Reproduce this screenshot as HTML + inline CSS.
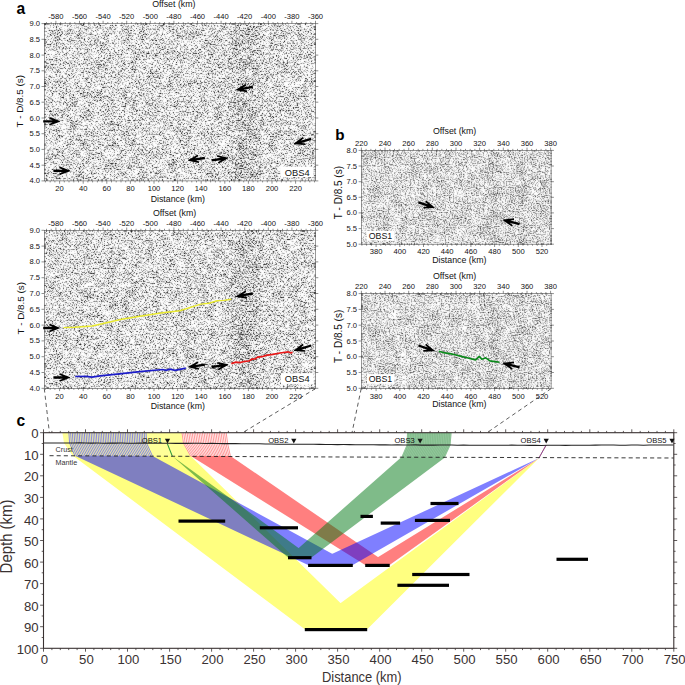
<!DOCTYPE html>
<html><head><meta charset="utf-8"><title>figure</title>
<style>html,body{margin:0;padding:0;background:#fff;}svg{display:block;}text{font-family:"Liberation Sans", sans-serif;}</style></head><body>
<svg width="685" height="685" viewBox="0 0 685 685">
<defs>
<filter id="nzA" x="0" y="0" width="100%" height="100%" color-interpolation-filters="sRGB"><feTurbulence type="fractalNoise" baseFrequency="0.71 0.79" numOctaves="2" seed="7" result="a0"/><feColorMatrix in="a0" type="matrix" values="1 0 0 0 0  1 0 0 0 0  1 0 0 0 0  0 0 0 0 1" result="a"/><feTurbulence type="fractalNoise" baseFrequency="0.13 0.10" numOctaves="2" seed="18" result="b0"/><feColorMatrix in="b0" type="matrix" values="1 0 0 0 0  1 0 0 0 0  1 0 0 0 0  0 0 0 0 1" result="b"/><feComposite in="b" in2="SourceGraphic" operator="arithmetic" k1="0" k2="0.6" k3="1" k4="-0.25" result="d"/><feComposite in="a" in2="d" operator="arithmetic" k1="0" k2="3" k3="1" k4="-1.1" result="e"/><feConvolveMatrix in="e" order="3" kernelMatrix="1 2 1 2 30 2 1 2 1" divisor="42" edgeMode="duplicate" preserveAlpha="true"/></filter>
<filter id="nzB" x="0" y="0" width="100%" height="100%" color-interpolation-filters="sRGB"><feTurbulence type="fractalNoise" baseFrequency="0.77 0.87" numOctaves="2" seed="23" result="a0"/><feColorMatrix in="a0" type="matrix" values="1 0 0 0 0  1 0 0 0 0  1 0 0 0 0  0 0 0 0 1" result="a"/><feTurbulence type="fractalNoise" baseFrequency="0.10 0.08" numOctaves="2" seed="34" result="b0"/><feColorMatrix in="b0" type="matrix" values="1 0 0 0 0  1 0 0 0 0  1 0 0 0 0  0 0 0 0 1" result="b"/><feComposite in="b" in2="SourceGraphic" operator="arithmetic" k1="0" k2="0.4" k3="1" k4="-0.25" result="d"/><feComposite in="a" in2="d" operator="arithmetic" k1="0" k2="2" k3="1" k4="-0.565" result="e"/><feConvolveMatrix in="e" order="3" kernelMatrix="1 2 1 2 30 2 1 2 1" divisor="42" edgeMode="duplicate" preserveAlpha="true"/></filter>
<linearGradient id="sgA" gradientUnits="userSpaceOnUse" x1="44.3" x2="315.5" y1="0" y2="0"><stop offset="0.0000" stop-color="rgb(128,128,128)"/><stop offset="0.6700" stop-color="rgb(128,128,128)"/><stop offset="0.7120" stop-color="rgb(99,99,99)"/><stop offset="0.7681" stop-color="rgb(99,99,99)"/><stop offset="0.8101" stop-color="rgb(128,128,128)"/><stop offset="1.0000" stop-color="rgb(128,128,128)"/></linearGradient>
<linearGradient id="sgB" gradientUnits="userSpaceOnUse" x1="361.4" x2="551.1" y1="0" y2="0"><stop offset="0.0000" stop-color="rgb(128,128,128)"/><stop offset="0.6568" stop-color="rgb(128,128,128)"/><stop offset="0.6821" stop-color="rgb(110,110,110)"/><stop offset="0.7159" stop-color="rgb(110,110,110)"/><stop offset="0.7412" stop-color="rgb(128,128,128)"/><stop offset="0.8150" stop-color="rgb(128,128,128)"/><stop offset="0.8339" stop-color="rgb(112,112,112)"/><stop offset="0.8593" stop-color="rgb(112,112,112)"/><stop offset="0.8782" stop-color="rgb(128,128,128)"/><stop offset="1.0000" stop-color="rgb(128,128,128)"/></linearGradient>
</defs>
<rect width="685" height="685" fill="#fff"/>
<rect x="44.3" y="23.6" width="271.2" height="157.3" fill="url(#sgA)" filter="url(#nzA)"/>
<rect x="44.3" y="23.6" width="271.2" height="157.3" fill="none" stroke="#555" stroke-width="0.6"/>
<path d="M55.9 23.6v-2.8M79.5 23.6v-2.8M103.1 23.6v-2.8M126.7 23.6v-2.8M150.3 23.6v-2.8M173.9 23.6v-2.8M197.5 23.6v-2.8M221.1 23.6v-2.8M244.7 23.6v-2.8M268.3 23.6v-2.8M291.9 23.6v-2.8M315.5 23.6v-2.8M46.5 23.6v-1.5M51.2 23.6v-1.5M60.6 23.6v-1.5M65.3 23.6v-1.5M70.1 23.6v-1.5M74.8 23.6v-1.5M84.2 23.6v-1.5M88.9 23.6v-1.5M93.7 23.6v-1.5M98.4 23.6v-1.5M107.8 23.6v-1.5M112.5 23.6v-1.5M117.3 23.6v-1.5M122.0 23.6v-1.5M131.4 23.6v-1.5M136.1 23.6v-1.5M140.9 23.6v-1.5M145.6 23.6v-1.5M155.0 23.6v-1.5M159.7 23.6v-1.5M164.5 23.6v-1.5M169.2 23.6v-1.5M178.6 23.6v-1.5M183.3 23.6v-1.5M188.1 23.6v-1.5M192.8 23.6v-1.5M202.2 23.6v-1.5M206.9 23.6v-1.5M211.7 23.6v-1.5M216.4 23.6v-1.5M225.8 23.6v-1.5M230.5 23.6v-1.5M235.3 23.6v-1.5M240.0 23.6v-1.5M249.4 23.6v-1.5M254.1 23.6v-1.5M258.9 23.6v-1.5M263.6 23.6v-1.5M273.0 23.6v-1.5M277.7 23.6v-1.5M282.5 23.6v-1.5M287.2 23.6v-1.5M296.6 23.6v-1.5M301.3 23.6v-1.5M306.1 23.6v-1.5M310.8 23.6v-1.5" stroke="#444" stroke-width="0.6" fill="none"/>
<text x="55.9" y="19.0" font-size="7.60" text-anchor="middle" fill="#111" font-weight="normal" >-580</text>
<text x="79.5" y="19.0" font-size="7.60" text-anchor="middle" fill="#111" font-weight="normal" >-560</text>
<text x="103.1" y="19.0" font-size="7.60" text-anchor="middle" fill="#111" font-weight="normal" >-540</text>
<text x="126.7" y="19.0" font-size="7.60" text-anchor="middle" fill="#111" font-weight="normal" >-520</text>
<text x="150.3" y="19.0" font-size="7.60" text-anchor="middle" fill="#111" font-weight="normal" >-500</text>
<text x="173.9" y="19.0" font-size="7.60" text-anchor="middle" fill="#111" font-weight="normal" >-480</text>
<text x="197.5" y="19.0" font-size="7.60" text-anchor="middle" fill="#111" font-weight="normal" >-460</text>
<text x="221.1" y="19.0" font-size="7.60" text-anchor="middle" fill="#111" font-weight="normal" >-440</text>
<text x="244.7" y="19.0" font-size="7.60" text-anchor="middle" fill="#111" font-weight="normal" >-420</text>
<text x="268.3" y="19.0" font-size="7.60" text-anchor="middle" fill="#111" font-weight="normal" >-400</text>
<text x="291.9" y="19.0" font-size="7.60" text-anchor="middle" fill="#111" font-weight="normal" >-380</text>
<text x="315.5" y="19.0" font-size="7.60" text-anchor="middle" fill="#111" font-weight="normal" >-360</text>
<text x="173.8" y="6.9" font-size="8.80" text-anchor="middle" fill="#111" font-weight="normal" >Offset (km)</text>
<path d="M59.6 180.9v2.8M83.2 180.9v2.8M106.8 180.9v2.8M130.4 180.9v2.8M154.0 180.9v2.8M177.6 180.9v2.8M201.2 180.9v2.8M224.8 180.9v2.8M248.4 180.9v2.8M272.0 180.9v2.8M295.6 180.9v2.8M45.4 180.9v1.5M50.2 180.9v1.5M54.9 180.9v1.5M64.3 180.9v1.5M69.0 180.9v1.5M73.8 180.9v1.5M78.5 180.9v1.5M87.9 180.9v1.5M92.6 180.9v1.5M97.4 180.9v1.5M102.1 180.9v1.5M111.5 180.9v1.5M116.2 180.9v1.5M121.0 180.9v1.5M125.7 180.9v1.5M135.1 180.9v1.5M139.8 180.9v1.5M144.6 180.9v1.5M149.3 180.9v1.5M158.7 180.9v1.5M163.4 180.9v1.5M168.2 180.9v1.5M172.9 180.9v1.5M182.3 180.9v1.5M187.0 180.9v1.5M191.8 180.9v1.5M196.5 180.9v1.5M205.9 180.9v1.5M210.6 180.9v1.5M215.4 180.9v1.5M220.1 180.9v1.5M229.5 180.9v1.5M234.2 180.9v1.5M239.0 180.9v1.5M243.7 180.9v1.5M253.1 180.9v1.5M257.8 180.9v1.5M262.6 180.9v1.5M267.3 180.9v1.5M276.7 180.9v1.5M281.4 180.9v1.5M286.2 180.9v1.5M290.9 180.9v1.5M300.3 180.9v1.5M305.0 180.9v1.5M309.8 180.9v1.5M314.5 180.9v1.5" stroke="#444" stroke-width="0.6" fill="none"/>
<text x="59.6" y="191.3" font-size="7.60" text-anchor="middle" fill="#111" font-weight="normal" >20</text>
<text x="83.2" y="191.3" font-size="7.60" text-anchor="middle" fill="#111" font-weight="normal" >40</text>
<text x="106.8" y="191.3" font-size="7.60" text-anchor="middle" fill="#111" font-weight="normal" >60</text>
<text x="130.4" y="191.3" font-size="7.60" text-anchor="middle" fill="#111" font-weight="normal" >80</text>
<text x="154.0" y="191.3" font-size="7.60" text-anchor="middle" fill="#111" font-weight="normal" >100</text>
<text x="177.6" y="191.3" font-size="7.60" text-anchor="middle" fill="#111" font-weight="normal" >120</text>
<text x="201.2" y="191.3" font-size="7.60" text-anchor="middle" fill="#111" font-weight="normal" >140</text>
<text x="224.8" y="191.3" font-size="7.60" text-anchor="middle" fill="#111" font-weight="normal" >160</text>
<text x="248.4" y="191.3" font-size="7.60" text-anchor="middle" fill="#111" font-weight="normal" >180</text>
<text x="272.0" y="191.3" font-size="7.60" text-anchor="middle" fill="#111" font-weight="normal" >200</text>
<text x="295.6" y="191.3" font-size="7.60" text-anchor="middle" fill="#111" font-weight="normal" >220</text>
<text x="177.8" y="201.7" font-size="8.80" text-anchor="middle" fill="#111" font-weight="normal" >Distance (km)</text>
<path d="M44.3 180.9h-2.8M44.3 165.2h-2.8M44.3 149.4h-2.8M44.3 133.7h-2.8M44.3 118.0h-2.8M44.3 102.2h-2.8M44.3 86.5h-2.8M44.3 70.8h-2.8M44.3 55.1h-2.8M44.3 39.3h-2.8M44.3 23.6h-2.8" stroke="#444" stroke-width="0.6" fill="none"/>
<path d="M315.5 180.9h2.8M315.5 165.2h2.8M315.5 149.4h2.8M315.5 133.7h2.8M315.5 118.0h2.8M315.5 102.2h2.8M315.5 86.5h2.8M315.5 70.8h2.8M315.5 55.1h2.8M315.5 39.3h2.8M315.5 23.6h2.8" stroke="#444" stroke-width="0.6" fill="none"/>
<text x="40.0" y="183.4" font-size="7.60" text-anchor="end" fill="#111" font-weight="normal" >4.0</text>
<text x="40.0" y="167.7" font-size="7.60" text-anchor="end" fill="#111" font-weight="normal" >4.5</text>
<text x="40.0" y="151.9" font-size="7.60" text-anchor="end" fill="#111" font-weight="normal" >5.0</text>
<text x="40.0" y="136.2" font-size="7.60" text-anchor="end" fill="#111" font-weight="normal" >5.5</text>
<text x="40.0" y="120.5" font-size="7.60" text-anchor="end" fill="#111" font-weight="normal" >6.0</text>
<text x="40.0" y="104.8" font-size="7.60" text-anchor="end" fill="#111" font-weight="normal" >6.5</text>
<text x="40.0" y="89.0" font-size="7.60" text-anchor="end" fill="#111" font-weight="normal" >7.0</text>
<text x="40.0" y="73.3" font-size="7.60" text-anchor="end" fill="#111" font-weight="normal" >7.5</text>
<text x="40.0" y="57.6" font-size="7.60" text-anchor="end" fill="#111" font-weight="normal" >8.0</text>
<text x="40.0" y="41.8" font-size="7.60" text-anchor="end" fill="#111" font-weight="normal" >8.5</text>
<text x="40.0" y="26.1" font-size="7.60" text-anchor="end" fill="#111" font-weight="normal" >9.0</text>
<text transform="translate(22.8 101.2) rotate(-90)" font-size="9.9" text-anchor="middle" fill="#111">T - D/8.5 (s)</text>
<rect x="281.0" y="166.6" width="32.6" height="10.6" fill="#fff"/>
<text x="297.2" y="175.6" font-size="9.30" text-anchor="middle" fill="#111" font-weight="normal" >OBS4</text>
<polygon points="59.90,120.95 49.70,117.10 49.04,118.56 52.57,120.15 43.20,120.15 43.20,122.45 52.57,122.45 49.04,124.04 49.70,125.50 59.90,121.65" fill="#000"/>
<polygon points="70.10,170.45 59.90,166.60 59.24,168.06 62.77,169.65 53.40,169.65 53.40,171.95 62.77,171.95 59.24,173.54 59.90,175.00 70.10,171.15" fill="#000"/>
<polygon points="188.16,160.67 198.79,163.09 199.24,161.55 195.53,160.46 205.06,159.14 204.74,156.86 195.22,158.18 198.49,156.12 197.64,154.76 188.06,159.98" fill="#000"/>
<polygon points="228.14,157.63 217.51,155.23 217.06,156.77 220.77,157.85 211.44,159.16 211.76,161.44 221.09,160.13 217.82,162.20 218.67,163.55 228.24,158.32" fill="#000"/>
<polygon points="236.18,90.21 246.91,92.15 247.29,90.60 243.54,89.67 253.01,87.93 252.59,85.67 243.12,87.41 246.30,85.21 245.39,83.89 236.05,89.52" fill="#000"/>
<polygon points="294.14,144.29 305.02,145.04 305.23,143.46 301.39,142.95 311.53,139.90 310.87,137.70 300.73,140.75 303.65,138.21 302.60,137.00 293.94,143.62" fill="#000"/>
<rect x="44.3" y="230.3" width="271.2" height="158.0" fill="url(#sgA)" filter="url(#nzA)"/>
<rect x="44.3" y="230.3" width="271.2" height="158.0" fill="none" stroke="#555" stroke-width="0.6"/>
<path d="M55.9 230.3v-2.8M79.5 230.3v-2.8M103.1 230.3v-2.8M126.7 230.3v-2.8M150.3 230.3v-2.8M173.9 230.3v-2.8M197.5 230.3v-2.8M221.1 230.3v-2.8M244.7 230.3v-2.8M268.3 230.3v-2.8M291.9 230.3v-2.8M315.5 230.3v-2.8M46.5 230.3v-1.5M51.2 230.3v-1.5M60.6 230.3v-1.5M65.3 230.3v-1.5M70.1 230.3v-1.5M74.8 230.3v-1.5M84.2 230.3v-1.5M88.9 230.3v-1.5M93.7 230.3v-1.5M98.4 230.3v-1.5M107.8 230.3v-1.5M112.5 230.3v-1.5M117.3 230.3v-1.5M122.0 230.3v-1.5M131.4 230.3v-1.5M136.1 230.3v-1.5M140.9 230.3v-1.5M145.6 230.3v-1.5M155.0 230.3v-1.5M159.7 230.3v-1.5M164.5 230.3v-1.5M169.2 230.3v-1.5M178.6 230.3v-1.5M183.3 230.3v-1.5M188.1 230.3v-1.5M192.8 230.3v-1.5M202.2 230.3v-1.5M206.9 230.3v-1.5M211.7 230.3v-1.5M216.4 230.3v-1.5M225.8 230.3v-1.5M230.5 230.3v-1.5M235.3 230.3v-1.5M240.0 230.3v-1.5M249.4 230.3v-1.5M254.1 230.3v-1.5M258.9 230.3v-1.5M263.6 230.3v-1.5M273.0 230.3v-1.5M277.7 230.3v-1.5M282.5 230.3v-1.5M287.2 230.3v-1.5M296.6 230.3v-1.5M301.3 230.3v-1.5M306.1 230.3v-1.5M310.8 230.3v-1.5" stroke="#444" stroke-width="0.6" fill="none"/>
<text x="55.9" y="225.7" font-size="7.60" text-anchor="middle" fill="#111" font-weight="normal" >-580</text>
<text x="79.5" y="225.7" font-size="7.60" text-anchor="middle" fill="#111" font-weight="normal" >-560</text>
<text x="103.1" y="225.7" font-size="7.60" text-anchor="middle" fill="#111" font-weight="normal" >-540</text>
<text x="126.7" y="225.7" font-size="7.60" text-anchor="middle" fill="#111" font-weight="normal" >-520</text>
<text x="150.3" y="225.7" font-size="7.60" text-anchor="middle" fill="#111" font-weight="normal" >-500</text>
<text x="173.9" y="225.7" font-size="7.60" text-anchor="middle" fill="#111" font-weight="normal" >-480</text>
<text x="197.5" y="225.7" font-size="7.60" text-anchor="middle" fill="#111" font-weight="normal" >-460</text>
<text x="221.1" y="225.7" font-size="7.60" text-anchor="middle" fill="#111" font-weight="normal" >-440</text>
<text x="244.7" y="225.7" font-size="7.60" text-anchor="middle" fill="#111" font-weight="normal" >-420</text>
<text x="268.3" y="225.7" font-size="7.60" text-anchor="middle" fill="#111" font-weight="normal" >-400</text>
<text x="291.9" y="225.7" font-size="7.60" text-anchor="middle" fill="#111" font-weight="normal" >-380</text>
<text x="315.5" y="225.7" font-size="7.60" text-anchor="middle" fill="#111" font-weight="normal" >-360</text>
<text x="174.6" y="215.5" font-size="8.80" text-anchor="middle" fill="#111" font-weight="normal" >Offset (km)</text>
<path d="M59.6 388.3v2.8M83.2 388.3v2.8M106.8 388.3v2.8M130.4 388.3v2.8M154.0 388.3v2.8M177.6 388.3v2.8M201.2 388.3v2.8M224.8 388.3v2.8M248.4 388.3v2.8M272.0 388.3v2.8M295.6 388.3v2.8M45.4 388.3v1.5M50.2 388.3v1.5M54.9 388.3v1.5M64.3 388.3v1.5M69.0 388.3v1.5M73.8 388.3v1.5M78.5 388.3v1.5M87.9 388.3v1.5M92.6 388.3v1.5M97.4 388.3v1.5M102.1 388.3v1.5M111.5 388.3v1.5M116.2 388.3v1.5M121.0 388.3v1.5M125.7 388.3v1.5M135.1 388.3v1.5M139.8 388.3v1.5M144.6 388.3v1.5M149.3 388.3v1.5M158.7 388.3v1.5M163.4 388.3v1.5M168.2 388.3v1.5M172.9 388.3v1.5M182.3 388.3v1.5M187.0 388.3v1.5M191.8 388.3v1.5M196.5 388.3v1.5M205.9 388.3v1.5M210.6 388.3v1.5M215.4 388.3v1.5M220.1 388.3v1.5M229.5 388.3v1.5M234.2 388.3v1.5M239.0 388.3v1.5M243.7 388.3v1.5M253.1 388.3v1.5M257.8 388.3v1.5M262.6 388.3v1.5M267.3 388.3v1.5M276.7 388.3v1.5M281.4 388.3v1.5M286.2 388.3v1.5M290.9 388.3v1.5M300.3 388.3v1.5M305.0 388.3v1.5M309.8 388.3v1.5M314.5 388.3v1.5" stroke="#444" stroke-width="0.6" fill="none"/>
<text x="59.6" y="398.7" font-size="7.60" text-anchor="middle" fill="#111" font-weight="normal" >20</text>
<text x="83.2" y="398.7" font-size="7.60" text-anchor="middle" fill="#111" font-weight="normal" >40</text>
<text x="106.8" y="398.7" font-size="7.60" text-anchor="middle" fill="#111" font-weight="normal" >60</text>
<text x="130.4" y="398.7" font-size="7.60" text-anchor="middle" fill="#111" font-weight="normal" >80</text>
<text x="154.0" y="398.7" font-size="7.60" text-anchor="middle" fill="#111" font-weight="normal" >100</text>
<text x="177.6" y="398.7" font-size="7.60" text-anchor="middle" fill="#111" font-weight="normal" >120</text>
<text x="201.2" y="398.7" font-size="7.60" text-anchor="middle" fill="#111" font-weight="normal" >140</text>
<text x="224.8" y="398.7" font-size="7.60" text-anchor="middle" fill="#111" font-weight="normal" >160</text>
<text x="248.4" y="398.7" font-size="7.60" text-anchor="middle" fill="#111" font-weight="normal" >180</text>
<text x="272.0" y="398.7" font-size="7.60" text-anchor="middle" fill="#111" font-weight="normal" >200</text>
<text x="295.6" y="398.7" font-size="7.60" text-anchor="middle" fill="#111" font-weight="normal" >220</text>
<text x="177.8" y="409.1" font-size="8.80" text-anchor="middle" fill="#111" font-weight="normal" >Distance (km)</text>
<path d="M44.3 388.3h-2.8M44.3 372.5h-2.8M44.3 356.7h-2.8M44.3 340.9h-2.8M44.3 325.1h-2.8M44.3 309.3h-2.8M44.3 293.5h-2.8M44.3 277.7h-2.8M44.3 261.9h-2.8M44.3 246.1h-2.8M44.3 230.3h-2.8" stroke="#444" stroke-width="0.6" fill="none"/>
<path d="M315.5 388.3h2.8M315.5 372.5h2.8M315.5 356.7h2.8M315.5 340.9h2.8M315.5 325.1h2.8M315.5 309.3h2.8M315.5 293.5h2.8M315.5 277.7h2.8M315.5 261.9h2.8M315.5 246.1h2.8M315.5 230.3h2.8" stroke="#444" stroke-width="0.6" fill="none"/>
<text x="40.0" y="390.8" font-size="7.60" text-anchor="end" fill="#111" font-weight="normal" >4.0</text>
<text x="40.0" y="375.0" font-size="7.60" text-anchor="end" fill="#111" font-weight="normal" >4.5</text>
<text x="40.0" y="359.2" font-size="7.60" text-anchor="end" fill="#111" font-weight="normal" >5.0</text>
<text x="40.0" y="343.4" font-size="7.60" text-anchor="end" fill="#111" font-weight="normal" >5.5</text>
<text x="40.0" y="327.6" font-size="7.60" text-anchor="end" fill="#111" font-weight="normal" >6.0</text>
<text x="40.0" y="311.8" font-size="7.60" text-anchor="end" fill="#111" font-weight="normal" >6.5</text>
<text x="40.0" y="296.0" font-size="7.60" text-anchor="end" fill="#111" font-weight="normal" >7.0</text>
<text x="40.0" y="280.2" font-size="7.60" text-anchor="end" fill="#111" font-weight="normal" >7.5</text>
<text x="40.0" y="264.4" font-size="7.60" text-anchor="end" fill="#111" font-weight="normal" >8.0</text>
<text x="40.0" y="248.6" font-size="7.60" text-anchor="end" fill="#111" font-weight="normal" >8.5</text>
<text x="40.0" y="232.8" font-size="7.60" text-anchor="end" fill="#111" font-weight="normal" >9.0</text>
<text transform="translate(23.6 308.2) rotate(-90)" font-size="9.9" text-anchor="middle" fill="#111">T - D/8.5 (s)</text>
<rect x="281.0" y="373.3" width="32.6" height="10.6" fill="#fff"/>
<text x="297.2" y="382.3" font-size="9.30" text-anchor="middle" fill="#111" font-weight="normal" >OBS4</text>
<polyline points="63.5,327.6 75,327.3 92.1,326 100,324.2 121.7,319.2 140,316.2 162.6,312.7 180,310.7 200.7,304.1 209,303.2 217.1,300.8 224,300.4 231.3,299.3" fill="none" stroke="#eaea30" stroke-width="1.4"/>
<polyline points="75.2,376.5 86,376.3 92.1,377.1 100,375.8 121.7,373.6 140,371.6 162.6,369.5 166,370.4 170,369.2 175,370.3 180,369.3 185.8,368.2" fill="none" stroke="#1c1cc8" stroke-width="1.7"/>
<polyline points="231.3,363.6 236,362.2 240,362.6 245,361.3 248.8,361 252,359.2 255,358.9 257.6,357.1 262,356.7 266,355.4 272.9,354.4 280,353 288.2,351.8 290.5,352.9 292.6,352.4" fill="none" stroke="#e81818" stroke-width="1.7"/>
<polygon points="59.90,327.65 49.70,323.80 49.04,325.26 52.57,326.85 43.20,326.85 43.20,329.15 52.57,329.15 49.04,330.74 49.70,332.20 59.90,328.35" fill="#000"/>
<polygon points="70.10,377.15 59.90,373.30 59.24,374.76 62.77,376.35 53.40,376.35 53.40,378.65 62.77,378.65 59.24,380.24 59.90,381.70 70.10,377.85" fill="#000"/>
<polygon points="188.16,367.37 198.79,369.79 199.24,368.25 195.53,367.16 205.06,365.84 204.74,363.56 195.22,364.88 198.49,362.82 197.64,361.46 188.06,366.68" fill="#000"/>
<polygon points="228.14,364.33 217.51,361.93 217.06,363.47 220.77,364.55 211.44,365.86 211.76,368.14 221.09,366.83 217.82,368.90 218.67,370.25 228.24,365.02" fill="#000"/>
<polygon points="236.18,296.91 246.91,298.85 247.29,297.30 243.54,296.37 253.01,294.63 252.59,292.37 243.12,294.11 246.30,291.91 245.39,290.59 236.05,296.22" fill="#000"/>
<polygon points="294.14,350.99 305.02,351.74 305.23,350.16 301.39,349.65 311.53,346.60 310.87,344.40 300.73,347.45 303.65,344.91 302.60,343.70 293.94,350.32" fill="#000"/>
<rect x="361.4" y="150.4" width="189.7" height="93.8" fill="url(#sgB)" filter="url(#nzB)"/>
<rect x="361.4" y="150.4" width="189.7" height="93.8" fill="none" stroke="#555" stroke-width="0.6"/>
<path d="M361.4 150.4v-2.8M385.0 150.4v-2.8M408.7 150.4v-2.8M432.3 150.4v-2.8M456.0 150.4v-2.8M479.6 150.4v-2.8M503.3 150.4v-2.8M527.0 150.4v-2.8M550.6 150.4v-2.8M366.1 150.4v-1.5M370.9 150.4v-1.5M375.6 150.4v-1.5M380.3 150.4v-1.5M389.8 150.4v-1.5M394.5 150.4v-1.5M399.2 150.4v-1.5M404.0 150.4v-1.5M413.4 150.4v-1.5M418.2 150.4v-1.5M422.9 150.4v-1.5M427.6 150.4v-1.5M437.1 150.4v-1.5M441.8 150.4v-1.5M446.5 150.4v-1.5M451.3 150.4v-1.5M460.7 150.4v-1.5M465.5 150.4v-1.5M470.2 150.4v-1.5M474.9 150.4v-1.5M484.4 150.4v-1.5M489.1 150.4v-1.5M493.8 150.4v-1.5M498.6 150.4v-1.5M508.0 150.4v-1.5M512.8 150.4v-1.5M517.5 150.4v-1.5M522.2 150.4v-1.5M531.7 150.4v-1.5M536.4 150.4v-1.5M541.1 150.4v-1.5M545.9 150.4v-1.5" stroke="#444" stroke-width="0.6" fill="none"/>
<text x="361.4" y="145.8" font-size="7.60" text-anchor="middle" fill="#111" font-weight="normal" >220</text>
<text x="385.0" y="145.8" font-size="7.60" text-anchor="middle" fill="#111" font-weight="normal" >240</text>
<text x="408.7" y="145.8" font-size="7.60" text-anchor="middle" fill="#111" font-weight="normal" >260</text>
<text x="432.3" y="145.8" font-size="7.60" text-anchor="middle" fill="#111" font-weight="normal" >280</text>
<text x="456.0" y="145.8" font-size="7.60" text-anchor="middle" fill="#111" font-weight="normal" >300</text>
<text x="479.6" y="145.8" font-size="7.60" text-anchor="middle" fill="#111" font-weight="normal" >320</text>
<text x="503.3" y="145.8" font-size="7.60" text-anchor="middle" fill="#111" font-weight="normal" >340</text>
<text x="527.0" y="145.8" font-size="7.60" text-anchor="middle" fill="#111" font-weight="normal" >360</text>
<text x="550.6" y="145.8" font-size="7.60" text-anchor="middle" fill="#111" font-weight="normal" >380</text>
<text x="454.6" y="133.9" font-size="8.80" text-anchor="middle" fill="#111" font-weight="normal" >Offset (km)</text>
<path d="M376.1 244.2v2.8M399.8 244.2v2.8M423.5 244.2v2.8M447.2 244.2v2.8M470.9 244.2v2.8M494.6 244.2v2.8M518.3 244.2v2.8M542.0 244.2v2.8M361.9 244.2v1.5M366.6 244.2v1.5M371.4 244.2v1.5M380.8 244.2v1.5M385.6 244.2v1.5M390.3 244.2v1.5M395.1 244.2v1.5M404.5 244.2v1.5M409.3 244.2v1.5M414.0 244.2v1.5M418.8 244.2v1.5M428.2 244.2v1.5M433.0 244.2v1.5M437.7 244.2v1.5M442.5 244.2v1.5M451.9 244.2v1.5M456.7 244.2v1.5M461.4 244.2v1.5M466.2 244.2v1.5M475.6 244.2v1.5M480.4 244.2v1.5M485.1 244.2v1.5M489.9 244.2v1.5M499.3 244.2v1.5M504.1 244.2v1.5M508.8 244.2v1.5M513.6 244.2v1.5M523.0 244.2v1.5M527.8 244.2v1.5M532.5 244.2v1.5M537.3 244.2v1.5M546.7 244.2v1.5" stroke="#444" stroke-width="0.6" fill="none"/>
<text x="376.1" y="254.4" font-size="7.60" text-anchor="middle" fill="#111" font-weight="normal" >380</text>
<text x="399.8" y="254.4" font-size="7.60" text-anchor="middle" fill="#111" font-weight="normal" >400</text>
<text x="423.5" y="254.4" font-size="7.60" text-anchor="middle" fill="#111" font-weight="normal" >420</text>
<text x="447.2" y="254.4" font-size="7.60" text-anchor="middle" fill="#111" font-weight="normal" >440</text>
<text x="470.9" y="254.4" font-size="7.60" text-anchor="middle" fill="#111" font-weight="normal" >460</text>
<text x="494.6" y="254.4" font-size="7.60" text-anchor="middle" fill="#111" font-weight="normal" >480</text>
<text x="518.3" y="254.4" font-size="7.60" text-anchor="middle" fill="#111" font-weight="normal" >500</text>
<text x="542.0" y="254.4" font-size="7.60" text-anchor="middle" fill="#111" font-weight="normal" >520</text>
<text x="459.3" y="263.1" font-size="8.80" text-anchor="middle" fill="#111" font-weight="normal" >Distance (km)</text>
<path d="M361.4 244.2h-2.8M361.4 228.6h-2.8M361.4 212.9h-2.8M361.4 197.3h-2.8M361.4 181.7h-2.8M361.4 166.0h-2.8M361.4 150.4h-2.8" stroke="#444" stroke-width="0.6" fill="none"/>
<path d="M551.1 244.2h2.8M551.1 228.6h2.8M551.1 212.9h2.8M551.1 197.3h2.8M551.1 181.7h2.8M551.1 166.0h2.8M551.1 150.4h2.8" stroke="#444" stroke-width="0.6" fill="none"/>
<text x="357.1" y="246.7" font-size="7.60" text-anchor="end" fill="#111" font-weight="normal" >5.0</text>
<text x="357.1" y="231.1" font-size="7.60" text-anchor="end" fill="#111" font-weight="normal" >5.5</text>
<text x="357.1" y="215.4" font-size="7.60" text-anchor="end" fill="#111" font-weight="normal" >6.0</text>
<text x="357.1" y="199.8" font-size="7.60" text-anchor="end" fill="#111" font-weight="normal" >6.5</text>
<text x="357.1" y="184.2" font-size="7.60" text-anchor="end" fill="#111" font-weight="normal" >7.0</text>
<text x="357.1" y="168.5" font-size="7.60" text-anchor="end" fill="#111" font-weight="normal" >7.5</text>
<text x="357.1" y="152.9" font-size="7.60" text-anchor="end" fill="#111" font-weight="normal" >8.0</text>
<text transform="translate(341.8 192.6) rotate(-90)" font-size="10.0" text-anchor="middle" fill="#111">T - D/8.5 (s)</text>
<rect x="367" y="231.0" width="27.4" height="9.6" fill="#fff"/>
<text x="380.5" y="239.1" font-size="8.80" text-anchor="middle" fill="#111" font-weight="normal" >OBS1</text>
<polygon points="434.66,207.46 426.25,200.53 425.15,201.70 427.98,204.34 418.77,201.21 418.03,203.39 427.24,206.52 423.39,206.89 423.54,208.48 434.44,208.12" fill="#000"/>
<polygon points="502.84,220.21 511.75,226.50 512.75,225.26 509.74,222.83 519.31,225.31 519.89,223.09 510.32,220.60 514.13,219.95 513.86,218.37 503.02,219.54" fill="#000"/>
<rect x="361.4" y="293.6" width="189.7" height="94.7" fill="url(#sgB)" filter="url(#nzB)"/>
<rect x="361.4" y="293.6" width="189.7" height="94.7" fill="none" stroke="#555" stroke-width="0.6"/>
<path d="M361.4 293.6v-2.8M385.0 293.6v-2.8M408.7 293.6v-2.8M432.3 293.6v-2.8M456.0 293.6v-2.8M479.6 293.6v-2.8M503.3 293.6v-2.8M527.0 293.6v-2.8M550.6 293.6v-2.8M366.1 293.6v-1.5M370.9 293.6v-1.5M375.6 293.6v-1.5M380.3 293.6v-1.5M389.8 293.6v-1.5M394.5 293.6v-1.5M399.2 293.6v-1.5M404.0 293.6v-1.5M413.4 293.6v-1.5M418.2 293.6v-1.5M422.9 293.6v-1.5M427.6 293.6v-1.5M437.1 293.6v-1.5M441.8 293.6v-1.5M446.5 293.6v-1.5M451.3 293.6v-1.5M460.7 293.6v-1.5M465.5 293.6v-1.5M470.2 293.6v-1.5M474.9 293.6v-1.5M484.4 293.6v-1.5M489.1 293.6v-1.5M493.8 293.6v-1.5M498.6 293.6v-1.5M508.0 293.6v-1.5M512.8 293.6v-1.5M517.5 293.6v-1.5M522.2 293.6v-1.5M531.7 293.6v-1.5M536.4 293.6v-1.5M541.1 293.6v-1.5M545.9 293.6v-1.5" stroke="#444" stroke-width="0.6" fill="none"/>
<text x="361.4" y="289.0" font-size="7.60" text-anchor="middle" fill="#111" font-weight="normal" >220</text>
<text x="385.0" y="289.0" font-size="7.60" text-anchor="middle" fill="#111" font-weight="normal" >240</text>
<text x="408.7" y="289.0" font-size="7.60" text-anchor="middle" fill="#111" font-weight="normal" >260</text>
<text x="432.3" y="289.0" font-size="7.60" text-anchor="middle" fill="#111" font-weight="normal" >280</text>
<text x="456.0" y="289.0" font-size="7.60" text-anchor="middle" fill="#111" font-weight="normal" >300</text>
<text x="479.6" y="289.0" font-size="7.60" text-anchor="middle" fill="#111" font-weight="normal" >320</text>
<text x="503.3" y="289.0" font-size="7.60" text-anchor="middle" fill="#111" font-weight="normal" >340</text>
<text x="527.0" y="289.0" font-size="7.60" text-anchor="middle" fill="#111" font-weight="normal" >360</text>
<text x="550.6" y="289.0" font-size="7.60" text-anchor="middle" fill="#111" font-weight="normal" >380</text>
<text x="454.6" y="278.9" font-size="8.80" text-anchor="middle" fill="#111" font-weight="normal" >Offset (km)</text>
<path d="M376.1 388.3v2.8M399.8 388.3v2.8M423.5 388.3v2.8M447.2 388.3v2.8M470.9 388.3v2.8M494.6 388.3v2.8M518.3 388.3v2.8M542.0 388.3v2.8M361.9 388.3v1.5M366.6 388.3v1.5M371.4 388.3v1.5M380.8 388.3v1.5M385.6 388.3v1.5M390.3 388.3v1.5M395.1 388.3v1.5M404.5 388.3v1.5M409.3 388.3v1.5M414.0 388.3v1.5M418.8 388.3v1.5M428.2 388.3v1.5M433.0 388.3v1.5M437.7 388.3v1.5M442.5 388.3v1.5M451.9 388.3v1.5M456.7 388.3v1.5M461.4 388.3v1.5M466.2 388.3v1.5M475.6 388.3v1.5M480.4 388.3v1.5M485.1 388.3v1.5M489.9 388.3v1.5M499.3 388.3v1.5M504.1 388.3v1.5M508.8 388.3v1.5M513.6 388.3v1.5M523.0 388.3v1.5M527.8 388.3v1.5M532.5 388.3v1.5M537.3 388.3v1.5M546.7 388.3v1.5" stroke="#444" stroke-width="0.6" fill="none"/>
<text x="376.1" y="398.5" font-size="7.60" text-anchor="middle" fill="#111" font-weight="normal" >380</text>
<text x="399.8" y="398.5" font-size="7.60" text-anchor="middle" fill="#111" font-weight="normal" >400</text>
<text x="423.5" y="398.5" font-size="7.60" text-anchor="middle" fill="#111" font-weight="normal" >420</text>
<text x="447.2" y="398.5" font-size="7.60" text-anchor="middle" fill="#111" font-weight="normal" >440</text>
<text x="470.9" y="398.5" font-size="7.60" text-anchor="middle" fill="#111" font-weight="normal" >460</text>
<text x="494.6" y="398.5" font-size="7.60" text-anchor="middle" fill="#111" font-weight="normal" >480</text>
<text x="518.3" y="398.5" font-size="7.60" text-anchor="middle" fill="#111" font-weight="normal" >500</text>
<text x="542.0" y="398.5" font-size="7.60" text-anchor="middle" fill="#111" font-weight="normal" >520</text>
<text x="459.3" y="407.2" font-size="8.80" text-anchor="middle" fill="#111" font-weight="normal" >Distance (km)</text>
<path d="M361.4 388.3h-2.8M361.4 372.5h-2.8M361.4 356.7h-2.8M361.4 341.0h-2.8M361.4 325.2h-2.8M361.4 309.4h-2.8M361.4 293.6h-2.8" stroke="#444" stroke-width="0.6" fill="none"/>
<path d="M551.1 388.3h2.8M551.1 372.5h2.8M551.1 356.7h2.8M551.1 341.0h2.8M551.1 325.2h2.8M551.1 309.4h2.8M551.1 293.6h2.8" stroke="#444" stroke-width="0.6" fill="none"/>
<text x="357.1" y="390.8" font-size="7.60" text-anchor="end" fill="#111" font-weight="normal" >5.0</text>
<text x="357.1" y="375.0" font-size="7.60" text-anchor="end" fill="#111" font-weight="normal" >5.5</text>
<text x="357.1" y="359.2" font-size="7.60" text-anchor="end" fill="#111" font-weight="normal" >6.0</text>
<text x="357.1" y="343.5" font-size="7.60" text-anchor="end" fill="#111" font-weight="normal" >6.5</text>
<text x="357.1" y="327.7" font-size="7.60" text-anchor="end" fill="#111" font-weight="normal" >7.0</text>
<text x="357.1" y="311.9" font-size="7.60" text-anchor="end" fill="#111" font-weight="normal" >7.5</text>
<text x="357.1" y="296.1" font-size="7.60" text-anchor="end" fill="#111" font-weight="normal" >8.0</text>
<text transform="translate(341.8 336.3) rotate(-90)" font-size="10.0" text-anchor="middle" fill="#111">T - D/8.5 (s)</text>
<rect x="367" y="374.2" width="27.4" height="9.6" fill="#fff"/>
<text x="380.5" y="382.3" font-size="8.80" text-anchor="middle" fill="#111" font-weight="normal" >OBS1</text>
<polyline points="438.8,351.3 445,352.9 450,353.6 455,354.8 461.3,356.4 468,358 475.6,359.9 479.3,356.4 481.8,359.2 485.8,357.8 489.9,360.9 499.5,362.3" fill="none" stroke="#0a8a1a" stroke-width="1.6" stroke-linejoin="round"/>
<polygon points="434.66,350.66 426.25,343.73 425.15,344.90 427.98,347.54 418.77,344.41 418.03,346.59 427.24,349.72 423.39,350.09 423.54,351.68 434.44,351.32" fill="#000"/>
<polygon points="502.84,363.41 511.75,369.70 512.75,368.46 509.74,366.03 519.31,368.51 519.89,366.29 510.32,363.80 514.13,363.15 513.86,361.57 503.02,362.74" fill="#000"/>
<text x="16.4" y="13.8" font-size="15.60" text-anchor="start" fill="#000" font-weight="bold" >a</text>
<text x="335.2" y="140.1" font-size="15.20" text-anchor="start" fill="#000" font-weight="bold" >b</text>
<text x="16.4" y="426.4" font-size="15.60" text-anchor="start" fill="#000" font-weight="bold" >c</text>
<path d="M44.3 388.6L49.4 432.7M315.5 388.6L242.6 432.7M361.2 388.6L352.0 432.7M551.1 388.6L487.0 432.7" stroke="#333" stroke-width="0.8" stroke-dasharray="4 3.2" fill="none"/>
<g style="isolation:isolate">
<path d="M62.4 432.7L64.0 443.0L73.0 456.2L190.6 456.4L182.9 443.3L181.5 432.7Z" fill="#ffff98"/>
<path d="M190.6 455.9L367.2 629.3L304.8 629.3L73.0 455.7ZM304.8 629.3L538.8 458.2L367.2 629.3Z" fill="#ffff80" fill-rule="nonzero"/>
<path d="M538.8 458.2L546.2 445.0" stroke="#ffff80" stroke-width="1" fill="none"/>
<path d="M230.5 456.0L389.6 565.1L365.2 565.1L190.8 455.9ZM365.2 565.1L538.8 458.2L389.6 565.1Z" fill="rgba(255,0,0,0.5)" fill-rule="nonzero"/>
<path d="M182.00 432.7L183.50 443.3L190.80 456.4M183.70 432.7L185.20 443.4L192.33 456.4M185.40 432.7L186.89 443.4L193.85 456.4M187.10 432.7L188.59 443.4L195.38 456.4M188.80 432.7L190.28 443.4L196.91 456.4M190.50 432.7L191.98 443.4L198.43 456.4M192.20 432.7L193.68 443.4L199.96 456.4M193.90 432.7L195.37 443.4L201.49 456.4M195.60 432.7L197.07 443.4L203.02 456.4M197.30 432.7L198.77 443.4L204.54 456.4M199.00 432.7L200.46 443.4L206.07 456.4M200.70 432.7L202.16 443.4L207.60 456.4M202.40 432.7L203.85 443.4L209.12 456.4M204.10 432.7L205.55 443.4L210.65 456.4M205.80 432.7L207.25 443.5L212.18 456.5M207.50 432.7L208.94 443.5L213.70 456.5M209.20 432.7L210.64 443.5L215.23 456.5M210.90 432.7L212.33 443.5L216.76 456.5M212.60 432.7L214.03 443.5L218.28 456.5M214.30 432.7L215.73 443.5L219.81 456.5M216.00 432.7L217.42 443.5L221.34 456.5M217.70 432.7L219.12 443.5L222.87 456.5M219.40 432.7L220.82 443.5L224.39 456.5M221.10 432.7L222.51 443.5L225.92 456.5M222.80 432.7L224.21 443.5L227.45 456.5M224.50 432.7L225.90 443.5L228.97 456.5M226.20 432.7L227.60 443.5L230.50 456.5" stroke="rgba(255,0,0,0.5)" stroke-width="0.9" fill="none" opacity="0.90"/>
<path d="M538.8 458.2L546.2 445.0" stroke="rgba(255,0,0,0.5)" stroke-width="1" fill="none"/>
<path d="M152.6 455.9L352.8 565.1L308.1 565.1L75.0 455.7ZM308.1 565.1L538.8 458.2L352.8 565.1Z" fill="rgba(0,0,255,0.5)" fill-rule="nonzero"/>
<path d="M68.90 432.7L69.60 443.0L75.00 456.2M70.61 432.7L71.31 443.0L76.72 456.2M72.33 432.7L73.02 443.0L78.45 456.3M74.04 432.7L74.73 443.0L80.17 456.3M75.75 432.7L76.44 443.0L81.90 456.3M77.47 432.7L78.16 443.0L83.62 456.3M79.18 432.7L79.87 443.0L85.35 456.3M80.89 432.7L81.58 443.0L87.07 456.3M82.61 432.7L83.29 443.0L88.80 456.3M84.32 432.7L85.00 443.0L90.52 456.3M86.03 432.7L86.71 443.0L92.24 456.3M87.75 432.7L88.42 443.0L93.97 456.3M89.46 432.7L90.13 443.0L95.69 456.3M91.17 432.7L91.84 443.0L97.42 456.3M92.89 432.7L93.56 443.0L99.14 456.3M94.60 432.7L95.27 443.0L100.87 456.3M96.31 432.7L96.98 443.1L102.59 456.3M98.03 432.7L98.69 443.1L104.32 456.3M99.74 432.7L100.40 443.1L106.04 456.3M101.45 432.7L102.11 443.1L107.76 456.3M103.17 432.7L103.82 443.1L109.49 456.3M104.88 432.7L105.53 443.1L111.21 456.3M106.59 432.7L107.24 443.1L112.94 456.3M108.31 432.7L108.96 443.1L114.66 456.3M110.02 432.7L110.67 443.1L116.39 456.3M111.73 432.7L112.38 443.1L118.11 456.3M113.45 432.7L114.09 443.1L119.84 456.3M115.16 432.7L115.80 443.1L121.56 456.3M116.87 432.7L117.51 443.1L123.28 456.3M118.59 432.7L119.22 443.1L125.01 456.3M120.30 432.7L120.93 443.1L126.73 456.3M122.01 432.7L122.64 443.1L128.46 456.3M123.73 432.7L124.36 443.1L130.18 456.3M125.44 432.7L126.07 443.1L131.91 456.3M127.15 432.7L127.78 443.1L133.63 456.3M128.87 432.7L129.49 443.1L135.36 456.3M130.58 432.7L131.20 443.1L137.08 456.3M132.29 432.7L132.91 443.2L138.80 456.3M134.01 432.7L134.62 443.2L140.53 456.3M135.72 432.7L136.33 443.2L142.25 456.3M137.43 432.7L138.04 443.2L143.98 456.3M139.15 432.7L139.76 443.2L145.70 456.4M140.86 432.7L141.47 443.2L147.43 456.4M142.57 432.7L143.18 443.2L149.15 456.4M144.29 432.7L144.89 443.2L150.88 456.4M146.00 432.7L146.60 443.2L152.60 456.4" stroke="#7c7ce8" stroke-width="0.9" fill="none" opacity="1.00"/>
<path d="M538.8 458.2L546.2 445.0" stroke="rgba(0,0,255,0.5)" stroke-width="1" fill="none"/>
<path d="M444.9 457.4L311.5 557.4L288.0 557.4L401.3 457.2ZM288.0 557.4L172.4 456.2L311.5 557.4ZM451.6 432.7L450.6 445.1L444.9 457.4L401.3 457.2L406.6 445.0L407.0 432.7Z" fill="rgba(0,120,20,0.5)"/>
<path d="M407.86 432.7L407.45 445.0L402.14 457.2M409.57 432.7L409.14 445.0L403.82 457.2M411.29 432.7L410.83 445.0L405.49 457.2M413.00 432.7L412.52 445.0L407.17 457.2M414.72 432.7L414.22 445.0L408.85 457.2M416.43 432.7L415.91 445.0L410.52 457.2M418.15 432.7L417.60 445.0L412.20 457.2M419.87 432.7L419.29 445.0L413.88 457.2M421.58 432.7L420.98 445.0L415.55 457.3M423.30 432.7L422.68 445.1L417.23 457.3M425.01 432.7L424.37 445.1L418.91 457.3M426.73 432.7L426.06 445.1L420.58 457.3M428.44 432.7L427.75 445.1L422.26 457.3M430.16 432.7L429.45 445.1L423.94 457.3M431.87 432.7L431.14 445.1L425.62 457.3M433.59 432.7L432.83 445.1L427.29 457.3M435.30 432.7L434.52 445.1L428.97 457.3M437.02 432.7L436.22 445.1L430.65 457.3M438.73 432.7L437.91 445.1L432.32 457.3M440.45 432.7L439.60 445.1L434.00 457.3M442.17 432.7L441.29 445.1L435.68 457.3M443.88 432.7L442.98 445.1L437.35 457.3M445.60 432.7L444.68 445.1L439.03 457.3M447.31 432.7L446.37 445.1L440.71 457.3M449.03 432.7L448.06 445.1L442.38 457.4M450.74 432.7L449.75 445.1L444.06 457.4" stroke="#fff" stroke-width="0.5" fill="none" opacity="0.3"/>
<path d="M172.4 456.4L167.3 443.6" stroke="#2a9a3a" stroke-width="1.1" fill="none"/>
</g>
<polyline points="43.5,442.93 49.5,442.97 55.5,443.00 61.5,443.06 67.5,443.03 73.5,443.09 79.5,442.89 85.5,443.01 91.5,443.14 97.5,443.09 103.5,443.17 109.5,442.99 115.5,443.10 121.5,443.06 127.5,443.15 133.5,443.17 139.5,443.05 145.5,443.12 151.5,443.15 157.5,443.33 163.5,443.32 169.5,443.20 175.5,443.38 181.5,443.25 187.5,443.39 193.5,443.30 199.5,443.30 205.5,443.54 211.5,443.40 217.5,443.43 223.5,443.64 229.5,443.64 235.5,443.53 241.5,443.73 247.5,443.70 253.5,443.80 259.5,443.76 265.5,444.01 271.5,444.02 277.5,444.16 283.5,444.22 289.5,444.15 295.5,444.21 301.5,444.21 307.5,444.25 313.5,444.28 319.5,444.39 325.5,444.51 331.5,444.41 337.5,444.62 343.5,444.58 349.5,444.61 355.5,444.76 361.5,444.71 367.5,444.71 373.5,444.78 379.5,444.87 385.5,444.75 391.5,445.00 397.5,444.80 403.5,445.01 409.5,445.07 415.5,444.90 421.5,445.12 427.5,445.05 433.5,445.12 439.5,445.00 445.5,445.02 451.5,445.06 457.5,445.26 463.5,445.08 469.5,445.23 475.5,445.28 481.5,445.29 487.5,445.16 493.5,445.17 499.5,445.23 505.5,445.30 511.5,445.15 517.5,445.31 523.5,445.33 529.5,445.36 535.5,445.17 541.5,445.40 547.5,445.20 553.5,445.24 559.5,445.29 565.5,445.35 571.5,445.20 577.5,445.33 583.5,445.22 589.5,445.15 595.5,445.14 601.5,445.09 607.5,445.05 613.5,445.06 619.5,445.17 625.5,445.23 631.5,445.02 637.5,444.98 643.5,445.19 649.5,445.07 655.5,445.02 661.5,444.97 667.5,445.04 673.5,445.08" fill="none" stroke="#222" stroke-width="1.05"/>
<path d="M49.5 455.7L340.0 457.0L673.8 458.0" stroke="#222" stroke-width="0.9" stroke-dasharray="4.1 3.05" fill="none"/>
<rect x="178.5" y="519.50" width="46.7" height="3.2" fill="#000"/>
<rect x="259.8" y="526.20" width="38.2" height="3.2" fill="#000"/>
<rect x="288.0" y="556.10" width="23.5" height="3.2" fill="#000"/>
<rect x="308.1" y="563.80" width="44.7" height="3.2" fill="#000"/>
<rect x="365.2" y="563.80" width="24.5" height="3.2" fill="#000"/>
<rect x="360.5" y="514.80" width="12.4" height="3.2" fill="#000"/>
<rect x="380.7" y="521.50" width="19.4" height="3.2" fill="#000"/>
<rect x="414.9" y="518.80" width="35.1" height="3.2" fill="#000"/>
<rect x="412.2" y="572.90" width="57.3" height="3.2" fill="#000"/>
<rect x="397.4" y="583.70" width="51.6" height="3.2" fill="#000"/>
<rect x="304.8" y="628.00" width="62.4" height="3.2" fill="#000"/>
<rect x="430.5" y="501.90" width="28.0" height="3.2" fill="#000"/>
<rect x="556.5" y="557.70" width="31.5" height="3.2" fill="#000"/>
<rect x="43.5" y="432.7" width="630.3" height="215.6" fill="none" stroke="#3a3232" stroke-width="1.1"/>
<path d="M43.5 648.3v3.4M43.5 432.7v-3.4M51.9 648.3v1.8M51.9 432.7v-1.8M60.3 648.3v1.8M60.3 432.7v-1.8M68.7 648.3v1.8M68.7 432.7v-1.8M77.1 648.3v1.8M77.1 432.7v-1.8M85.5 648.3v3.4M85.5 432.7v-3.4M93.9 648.3v1.8M93.9 432.7v-1.8M102.3 648.3v1.8M102.3 432.7v-1.8M110.7 648.3v1.8M110.7 432.7v-1.8M119.1 648.3v1.8M119.1 432.7v-1.8M127.5 648.3v3.4M127.5 432.7v-3.4M135.9 648.3v1.8M135.9 432.7v-1.8M144.3 648.3v1.8M144.3 432.7v-1.8M152.8 648.3v1.8M152.8 432.7v-1.8M161.2 648.3v1.8M161.2 432.7v-1.8M169.6 648.3v3.4M169.6 432.7v-3.4M178.0 648.3v1.8M178.0 432.7v-1.8M186.4 648.3v1.8M186.4 432.7v-1.8M194.8 648.3v1.8M194.8 432.7v-1.8M203.2 648.3v1.8M203.2 432.7v-1.8M211.6 648.3v3.4M211.6 432.7v-3.4M220.0 648.3v1.8M220.0 432.7v-1.8M228.4 648.3v1.8M228.4 432.7v-1.8M236.8 648.3v1.8M236.8 432.7v-1.8M245.2 648.3v1.8M245.2 432.7v-1.8M253.6 648.3v3.4M253.6 432.7v-3.4M262.0 648.3v1.8M262.0 432.7v-1.8M270.4 648.3v1.8M270.4 432.7v-1.8M278.8 648.3v1.8M278.8 432.7v-1.8M287.2 648.3v1.8M287.2 432.7v-1.8M295.6 648.3v3.4M295.6 432.7v-3.4M304.0 648.3v1.8M304.0 432.7v-1.8M312.4 648.3v1.8M312.4 432.7v-1.8M320.8 648.3v1.8M320.8 432.7v-1.8M329.2 648.3v1.8M329.2 432.7v-1.8M337.6 648.3v3.4M337.6 432.7v-3.4M346.0 648.3v1.8M346.0 432.7v-1.8M354.4 648.3v1.8M354.4 432.7v-1.8M362.9 648.3v1.8M362.9 432.7v-1.8M371.3 648.3v1.8M371.3 432.7v-1.8M379.7 648.3v3.4M379.7 432.7v-3.4M388.1 648.3v1.8M388.1 432.7v-1.8M396.5 648.3v1.8M396.5 432.7v-1.8M404.9 648.3v1.8M404.9 432.7v-1.8M413.3 648.3v1.8M413.3 432.7v-1.8M421.7 648.3v3.4M421.7 432.7v-3.4M430.1 648.3v1.8M430.1 432.7v-1.8M438.5 648.3v1.8M438.5 432.7v-1.8M446.9 648.3v1.8M446.9 432.7v-1.8M455.3 648.3v1.8M455.3 432.7v-1.8M463.7 648.3v3.4M463.7 432.7v-3.4M472.1 648.3v1.8M472.1 432.7v-1.8M480.5 648.3v1.8M480.5 432.7v-1.8M488.9 648.3v1.8M488.9 432.7v-1.8M497.3 648.3v1.8M497.3 432.7v-1.8M505.7 648.3v3.4M505.7 432.7v-3.4M514.1 648.3v1.8M514.1 432.7v-1.8M522.5 648.3v1.8M522.5 432.7v-1.8M530.9 648.3v1.8M530.9 432.7v-1.8M539.3 648.3v1.8M539.3 432.7v-1.8M547.7 648.3v3.4M547.7 432.7v-3.4M556.1 648.3v1.8M556.1 432.7v-1.8M564.5 648.3v1.8M564.5 432.7v-1.8M573.0 648.3v1.8M573.0 432.7v-1.8M581.4 648.3v1.8M581.4 432.7v-1.8M589.8 648.3v3.4M589.8 432.7v-3.4M598.2 648.3v1.8M598.2 432.7v-1.8M606.6 648.3v1.8M606.6 432.7v-1.8M615.0 648.3v1.8M615.0 432.7v-1.8M623.4 648.3v1.8M623.4 432.7v-1.8M631.8 648.3v3.4M631.8 432.7v-3.4M640.2 648.3v1.8M640.2 432.7v-1.8M648.6 648.3v1.8M648.6 432.7v-1.8M657.0 648.3v1.8M657.0 432.7v-1.8M665.4 648.3v1.8M665.4 432.7v-1.8M673.8 648.3v3.4M673.8 432.7v-3.4M43.5 432.7h-3.4M673.8 432.7h3.4M43.5 443.5h-1.8M673.8 443.5h1.8M43.5 454.3h-3.4M673.8 454.3h3.4M43.5 465.0h-1.8M673.8 465.0h1.8M43.5 475.8h-3.4M673.8 475.8h3.4M43.5 486.6h-1.8M673.8 486.6h1.8M43.5 497.4h-3.4M673.8 497.4h3.4M43.5 508.2h-1.8M673.8 508.2h1.8M43.5 518.9h-3.4M673.8 518.9h3.4M43.5 529.7h-1.8M673.8 529.7h1.8M43.5 540.5h-3.4M673.8 540.5h3.4M43.5 551.3h-1.8M673.8 551.3h1.8M43.5 562.1h-3.4M673.8 562.1h3.4M43.5 572.8h-1.8M673.8 572.8h1.8M43.5 583.6h-3.4M673.8 583.6h3.4M43.5 594.4h-1.8M673.8 594.4h1.8M43.5 605.2h-3.4M673.8 605.2h3.4M43.5 616.0h-1.8M673.8 616.0h1.8M43.5 626.7h-3.4M673.8 626.7h3.4M43.5 637.5h-1.8M673.8 637.5h1.8M43.5 648.3h-3.4M673.8 648.3h3.4" stroke="#3a3232" stroke-width="0.8" fill="none"/>
<text x="44.4" y="664.3" font-size="13.20" text-anchor="middle" fill="#3a3232" font-weight="normal" >0</text>
<text x="86.4" y="664.3" font-size="13.20" text-anchor="middle" fill="#3a3232" font-weight="normal" >50</text>
<text x="128.4" y="664.3" font-size="13.20" text-anchor="middle" fill="#3a3232" font-weight="normal" >100</text>
<text x="170.5" y="664.3" font-size="13.20" text-anchor="middle" fill="#3a3232" font-weight="normal" >150</text>
<text x="212.5" y="664.3" font-size="13.20" text-anchor="middle" fill="#3a3232" font-weight="normal" >200</text>
<text x="254.5" y="664.3" font-size="13.20" text-anchor="middle" fill="#3a3232" font-weight="normal" >250</text>
<text x="296.5" y="664.3" font-size="13.20" text-anchor="middle" fill="#3a3232" font-weight="normal" >300</text>
<text x="338.5" y="664.3" font-size="13.20" text-anchor="middle" fill="#3a3232" font-weight="normal" >350</text>
<text x="380.6" y="664.3" font-size="13.20" text-anchor="middle" fill="#3a3232" font-weight="normal" >400</text>
<text x="422.6" y="664.3" font-size="13.20" text-anchor="middle" fill="#3a3232" font-weight="normal" >450</text>
<text x="464.6" y="664.3" font-size="13.20" text-anchor="middle" fill="#3a3232" font-weight="normal" >500</text>
<text x="506.6" y="664.3" font-size="13.20" text-anchor="middle" fill="#3a3232" font-weight="normal" >550</text>
<text x="548.6" y="664.3" font-size="13.20" text-anchor="middle" fill="#3a3232" font-weight="normal" >600</text>
<text x="590.7" y="664.3" font-size="13.20" text-anchor="middle" fill="#3a3232" font-weight="normal" >650</text>
<text x="632.7" y="664.3" font-size="13.20" text-anchor="middle" fill="#3a3232" font-weight="normal" >700</text>
<text x="674.7" y="664.3" font-size="13.20" text-anchor="middle" fill="#3a3232" font-weight="normal" >750</text>
<text x="38.7" y="438.3" font-size="13.20" text-anchor="end" fill="#3a3232" font-weight="normal" >0</text>
<text x="38.7" y="459.9" font-size="13.20" text-anchor="end" fill="#3a3232" font-weight="normal" >10</text>
<text x="38.7" y="481.4" font-size="13.20" text-anchor="end" fill="#3a3232" font-weight="normal" >20</text>
<text x="38.7" y="503.0" font-size="13.20" text-anchor="end" fill="#3a3232" font-weight="normal" >30</text>
<text x="38.7" y="524.5" font-size="13.20" text-anchor="end" fill="#3a3232" font-weight="normal" >40</text>
<text x="38.7" y="546.1" font-size="13.20" text-anchor="end" fill="#3a3232" font-weight="normal" >50</text>
<text x="38.7" y="567.7" font-size="13.20" text-anchor="end" fill="#3a3232" font-weight="normal" >60</text>
<text x="38.7" y="589.2" font-size="13.20" text-anchor="end" fill="#3a3232" font-weight="normal" >70</text>
<text x="38.7" y="610.8" font-size="13.20" text-anchor="end" fill="#3a3232" font-weight="normal" >80</text>
<text x="38.7" y="632.3" font-size="13.20" text-anchor="end" fill="#3a3232" font-weight="normal" >90</text>
<text x="38.7" y="653.9" font-size="13.20" text-anchor="end" fill="#3a3232" font-weight="normal" >100</text>
<text x="361.8" y="682.0" font-size="14.00" text-anchor="middle" fill="#3a3232" font-weight="normal" textLength="79.7" lengthAdjust="spacingAndGlyphs">Distance (km)</text>
<text transform="translate(12.0 536.5) rotate(-90)" font-size="15.6" text-anchor="middle" textLength="73.8" lengthAdjust="spacingAndGlyphs" fill="#3a3232">Depth (km)</text>
<path d="M164.9 438.8h5.2l-2.6 4.6z" fill="#111"/>
<text x="162.1" y="443.3" font-size="7.60" text-anchor="end" fill="#111" font-weight="normal" >OBS1</text>
<path d="M291.2 438.8h5.2l-2.6 4.6z" fill="#111"/>
<text x="288.4" y="443.3" font-size="7.60" text-anchor="end" fill="#111" font-weight="normal" >OBS2</text>
<path d="M417.5 438.8h5.2l-2.6 4.6z" fill="#111"/>
<text x="414.7" y="443.3" font-size="7.60" text-anchor="end" fill="#111" font-weight="normal" >OBS3</text>
<path d="M543.6 438.8h5.2l-2.6 4.6z" fill="#111"/>
<text x="540.8" y="443.3" font-size="7.60" text-anchor="end" fill="#111" font-weight="normal" >OBS4</text>
<path d="M669.4 438.8h5.2l-2.6 4.6z" fill="#111"/>
<text x="666.6" y="443.3" font-size="7.60" text-anchor="end" fill="#111" font-weight="normal" >OBS5</text>
<text x="55.6" y="451.8" font-size="7.20" text-anchor="start" fill="#333" font-weight="normal" >Crust</text>
<text x="55.6" y="465.3" font-size="7.20" text-anchor="start" fill="#333" font-weight="normal" >Mantle</text>
</svg></body></html>
